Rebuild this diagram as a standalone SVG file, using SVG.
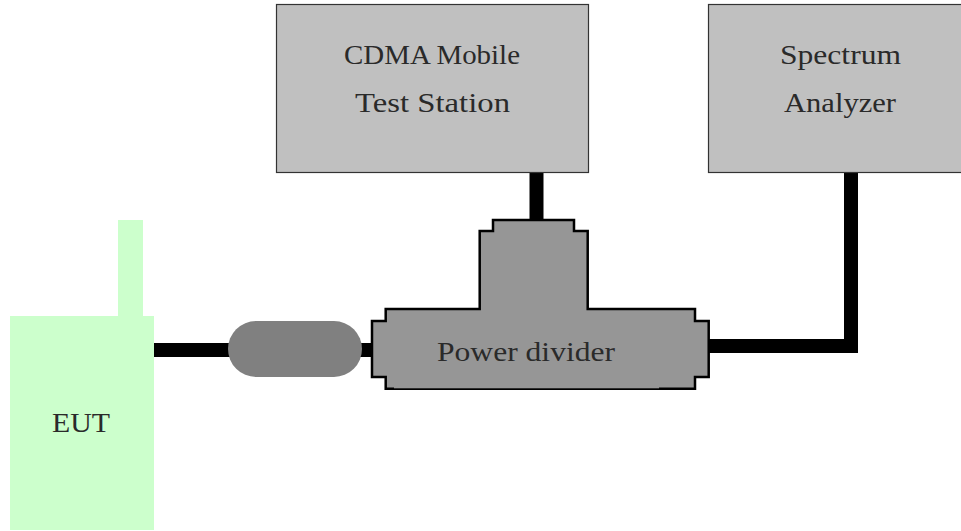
<svg xmlns="http://www.w3.org/2000/svg" width="961" height="531" viewBox="0 0 961 531">
<style>
text{font-family:"Liberation Serif","Times New Roman",serif;font-size:27px;fill:#2a2a2a}
.box{fill:#c0c0c0;stroke:#333;stroke-width:1.200}
.eut{fill:#ccffcc}
.cable{fill:none;stroke:#000;stroke-width:14}
</style>
<rect width="961" height="531" fill="#fff"/>
<g id="connectors">
<path class="cable" d="M154 350H372"/>
<path class="cable" d="M536.500 172V221"/>
<path class="cable" d="M708 346H851V172"/>
</g>
<g id="cdma-mobile-test-station">
<rect class="box" x="276.500" y="4.500" width="312" height="168"/>
<text x="344" y="64" textLength="176" lengthAdjust="spacingAndGlyphs">CDMA Mobile</text>
<text x="355" y="112" textLength="155" lengthAdjust="spacingAndGlyphs">Test Station</text>
</g>
<g id="spectrum-analyzer">
<rect class="box" x="708.500" y="4.500" width="284" height="168"/>
<text x="780" y="64" textLength="121" lengthAdjust="spacingAndGlyphs">Spectrum</text>
<text x="784" y="112" textLength="112" lengthAdjust="spacingAndGlyphs">Analyzer</text>
</g>
<g id="eut">
<rect class="eut" x="118" y="220" width="25" height="97"/>
<rect class="eut" x="10" y="316" width="144" height="214"/>
<text x="52" y="432" textLength="58" lengthAdjust="spacingAndGlyphs">EUT</text>
</g>
<g id="attenuator">
<rect x="228" y="321" width="134" height="56" rx="28" ry="28" fill="#808080"/>
</g>
<g id="power-divider">
<path d="M493 220H574V231H587.700V309H695V321H708.700V377H695V388.700H385.700V377H372V321H385.700V309H479.700V231H493Z" fill="#969696" stroke="#000" stroke-width="2.500"/>
<rect x="394" y="386" width="265" height="2.300" fill="#969696"/>
<text x="437" y="361" textLength="178" lengthAdjust="spacingAndGlyphs">Power divider</text>
</g>
</svg>
